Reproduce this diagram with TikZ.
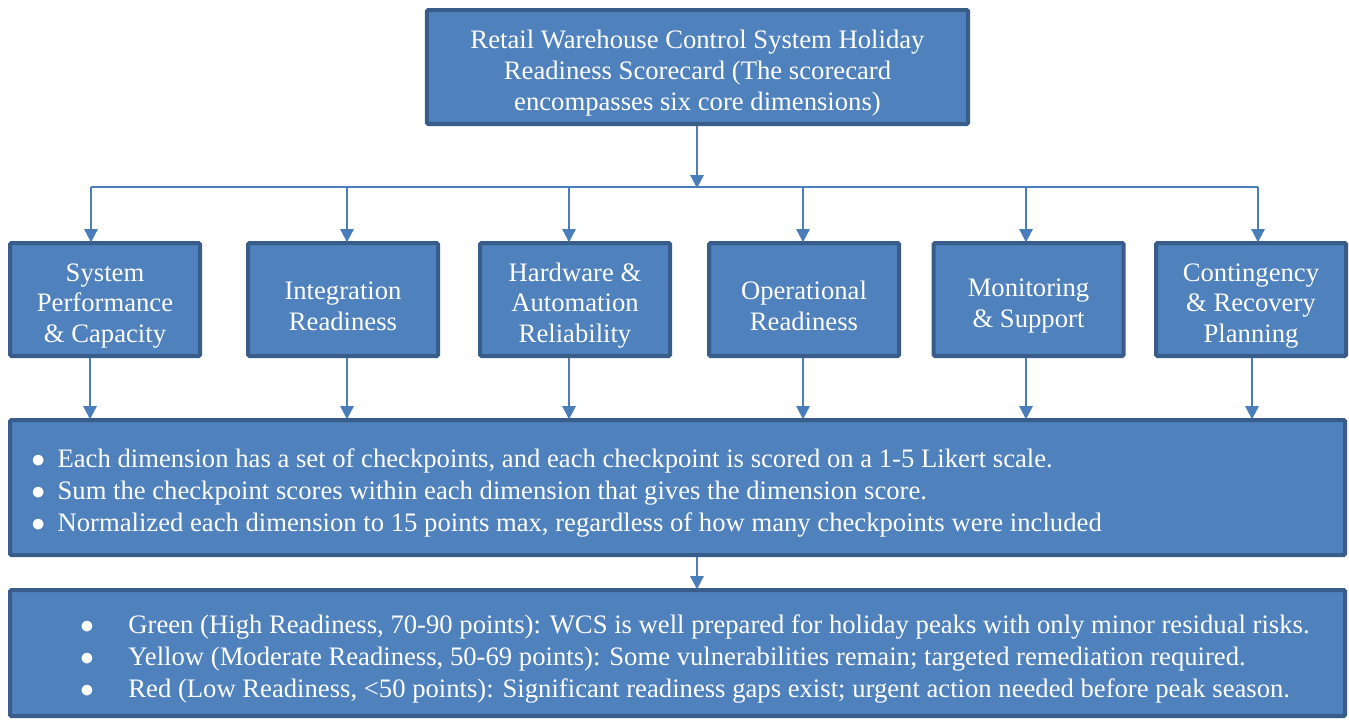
\documentclass[tikz,border=0pt]{standalone}
\usepackage{fontspec}
\setmainfont{Liberation Serif}
\usetikzlibrary{arrows.meta}
\definecolor{boxfill}{HTML}{4F81BD}
\definecolor{boxline}{HTML}{385D8A}
\definecolor{linkcol}{HTML}{4A7EBB}
\newcommand{\pt}[1]{\hspace*{#1}$\bullet$}

\begin{document}
\begin{tikzpicture}[x=0.75pt,y=-0.75pt,
    card/.style={draw=boxline,fill=boxfill,line width=3pt,rounded corners=1pt,
      text=white,inner sep=0pt,font=\fontsize{20}{23}\selectfont,
      execute at begin node={\rule{0pt}{23pt}}},
    dimbox/.style={card,minimum width=142.5pt,text width=142.5pt,minimum height=84.75pt,align=flush center},
    listbox/.style={card,minimum width=1001.25pt,text width=990pt,inner xsep=5.6pt,
      align=flush left,font=\fontsize{20}{24}\selectfont},
    busline/.style={draw=linkcol,line width=1.5pt},
    link/.style={busline,-{Triangle[width=10pt,length=10pt]},shorten >=-1pt}]
  \useasboundingbox (0,0) rectangle (1349,721);

  \node[card,minimum width=406pt,text width=406pt,minimum height=85.5pt,align=flush center] (title) at (697.5,67)
    {Retail Warehouse Control System Holiday\\Readiness Scorecard (The scorecard\\encompasses six core dimensions)};

  \foreach \i/\x/\txt in {1/105/{System\\Performance\\\& Capacity},
                          2/343/{Integration\\Readiness},
                          3/575/{Hardware \&\\Automation\\Reliability},
                          4/804/{Operational\\Readiness},
                          5/1028.5/{Monitoring\\\& Support},
                          6/1251/{Contingency\\\& Recovery\\Planning}}
    \node[dimbox] (d\i) at (\x,299.5) {\txt};

  \node[listbox,minimum height=101.25pt] (rules) at (677.5,487.5)
    {\pt{10.4pt}\hspace{9.3pt}Each dimension has a set of checkpoints, and each checkpoint is scored on a 1-5 Likert scale.\\
     \pt{10.4pt}\hspace{9.3pt}Sum the checkpoint scores within each dimension that gives the dimension score.\\
     \pt{10.4pt}\hspace{9.3pt}Normalized each dimension to 15 points max, regardless of how many checkpoints were included};

  \node[listbox,minimum height=94.5pt] (levels) at (677.5,653)
    {\pt{47pt}\hspace{25.8pt}Green (High Readiness, 70-90 points): WCS is well prepared for holiday peaks with only minor residual risks.\\
     \pt{47pt}\hspace{25.8pt}Yellow (Moderate Readiness, 50-69 points): Some vulnerabilities remain; targeted remediation required.\\
     \pt{47pt}\hspace{25.8pt}Red (Low Readiness, <50 points): Significant readiness gaps exist; urgent action needed before peak season.};

  % bus from the scorecard to the six dimensions
  \coordinate (bus) at (697,187);
  \draw[link] (title.south -| bus) -- (bus);
  \foreach \i/\x in {1/91,2/347,3/569,4/803,5/1026,6/1258}
    \coordinate (t\i) at (\x,187);
  \draw[busline] (t1) -- (t6);
  \foreach \i in {1,...,6}
    \draw[link] (t\i) -- (t\i |- d\i.north);

  % dimensions into the scoring rules
  \foreach \i/\x in {1/90,2/347,3/569,4/803,5/1026,6/1252}
    {\coordinate (s\i) at (\x,0);
     \draw[link] (d\i.south -| s\i) -- (rules.north -| s\i);}

  \draw[link] (rules.south -| bus) -- (levels.north -| bus);
\end{tikzpicture}
\end{document}
